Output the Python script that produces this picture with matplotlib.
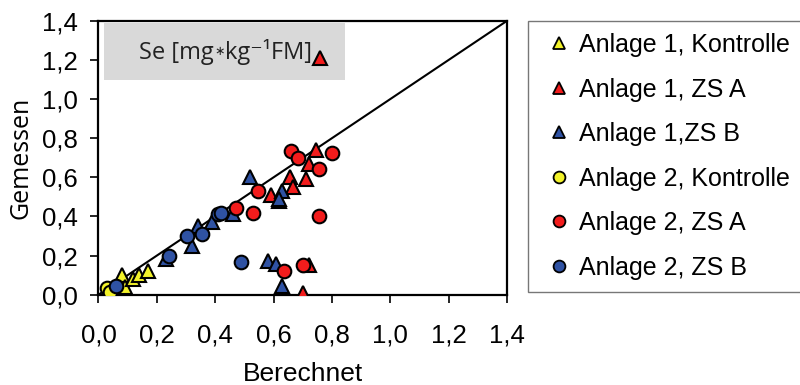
import matplotlib
matplotlib.use("Agg")
import matplotlib.pyplot as plt
from matplotlib.patches import Rectangle
from matplotlib.lines import Line2D
from matplotlib.text import Text
from matplotlib.offsetbox import TextArea, HPacker, AnnotationBbox, DrawingArea

# Measured (Gemessen) vs. calculated (Berechnet) selenium content
a1_kontrolle_x = [0.08, 0.09, 0.12, 0.14, 0.17]
a1_kontrolle_y = [0.10, 0.04, 0.08, 0.10, 0.12]

a1_zsa_x = [0.76, 0.745, 0.72, 0.71, 0.655, 0.665, 0.59, 0.62, 0.72, 0.70]
a1_zsa_y = [1.21, 0.74, 0.67, 0.59, 0.60, 0.55, 0.51, 0.48, 0.15, 0.01]

a1_zsb_x = [0.23, 0.32, 0.34, 0.39, 0.46, 0.52, 0.63, 0.62, 0.58, 0.61, 0.63]
a1_zsb_y = [0.18, 0.25, 0.35, 0.37, 0.41, 0.60, 0.53, 0.49, 0.17, 0.155, 0.045]

a2_kontrolle_x = [0.03, 0.04]
a2_kontrolle_y = [0.035, 0.015]

a2_zsa_x = [0.47, 0.53, 0.545, 0.66, 0.685, 0.80, 0.755, 0.755, 0.635, 0.70]
a2_zsa_y = [0.445, 0.42, 0.53, 0.735, 0.70, 0.725, 0.64, 0.40, 0.12, 0.15]

a2_zsb_x = [0.06, 0.24, 0.305, 0.355, 0.41, 0.42, 0.49]
a2_zsb_y = [0.045, 0.20, 0.30, 0.31, 0.41, 0.42, 0.165]

ticks = [0.0, 0.2, 0.4, 0.6, 0.8, 1.0, 1.2, 1.4]
tick_labels = ["0,0", "0,2", "0,4", "0,6", "0,8", "1,0", "1,2", "1,4"]

YELLOW = "#f2f22a"
RED = "#f21c1c"
BLUE = "#2f52a3"

series = [
    (a1_kontrolle_x, a1_kontrolle_y, "^", YELLOW, "Anlage 1, Kontrolle"),
    (a1_zsa_x, a1_zsa_y, "^", RED, "Anlage 1, ZS A"),
    (a1_zsb_x, a1_zsb_y, "^", BLUE, "Anlage 1,ZS B"),
    (a2_kontrolle_x, a2_kontrolle_y, "o", YELLOW, "Anlage 2, Kontrolle"),
    (a2_zsa_x, a2_zsa_y, "o", RED, "Anlage 2, ZS A"),
    (a2_zsb_x, a2_zsb_y, "o", BLUE, "Anlage 2, ZS B"),
]

plt.rcParams["font.family"] = ["Liberation Sans", "DejaVu Sans"]

fig = plt.figure(figsize=(8.0, 3.85), dpi=100)
ax = fig.add_axes([0.1231, 0.2345, 0.5107, 0.7115])

ax.set_xlim(0, 1.4)
ax.set_ylim(0, 1.4)

# 1:1 reference line
ax.plot([0, 1.4], [0, 1.4], color="black", lw=1.5, zorder=2)

# Title box inside the plot area
ax.add_patch(Rectangle((0.02, 1.095), 0.825, 0.295, facecolor="#d9d9d9",
                       edgecolor="none", zorder=1))
title_font = dict(fontsize=17, family=["Open Sans", "DejaVu Sans"],
                  color="#222222")
# small raised multiplication star between the units
star = DrawingArea(8, 12, 0, 0)
star.add_artist(Text(4, 3.2, "\u2217", ha="center", va="baseline",
                     fontsize=9, family="DejaVu Sans", color="#222222"))
title_parts = [
    TextArea("Se [mg", textprops=title_font),
    star,
    TextArea("kg\u207b\u00b9FM]", textprops=title_font),
]
title_box = HPacker(children=title_parts, align="baseline", pad=0, sep=0)
ab = AnnotationBbox(title_box, (0.435, 1.24), xycoords="data",
                    frameon=False, box_alignment=(0.5, 0.5), zorder=1.5)
ax.add_artist(ab)

handles = []
for xs, ys, mk, col, lab in series:
    ax.plot(xs, ys, linestyle="none", marker=mk, markersize=9.8,
            markerfacecolor=col, markeredgecolor="black", markeredgewidth=1.5,
            zorder=3)
    handles.append(Line2D([], [], linestyle="none", marker=mk, markersize=8.5,
                          markerfacecolor=col, markeredgecolor="black",
                          markeredgewidth=1.3, label=lab))

ax.set_xticks(ticks)
ax.set_xticklabels(tick_labels)
ax.set_yticks(ticks)
ax.set_yticklabels(tick_labels)
ax.tick_params(axis="x", direction="out", length=6, width=1.2, pad=15,
               labelsize=18.5)
ax.tick_params(axis="y", direction="out", length=6, width=1.2, pad=9,
               labelsize=18.5)
for sp in ax.spines.values():
    sp.set_linewidth(1.6)

ax.set_xlabel("Berechnet", fontsize=19, labelpad=10)
ax.set_ylabel("Gemessen", fontsize=18, family=["Open Sans", "DejaVu Sans"],
              labelpad=6)

leg = fig.legend(handles=handles, loc="upper left",
                 bbox_to_anchor=(528 / 800, 1 - 20.7 / 385),
                 fontsize=18, frameon=True, fancybox=False,
                 edgecolor="#555555", borderpad=0.5, labelspacing=0.82,
                 handlelength=1.45, handletextpad=0.1, borderaxespad=0)
leg.get_frame().set_linewidth(1.0)

fig.savefig("out.png", dpi=100)
